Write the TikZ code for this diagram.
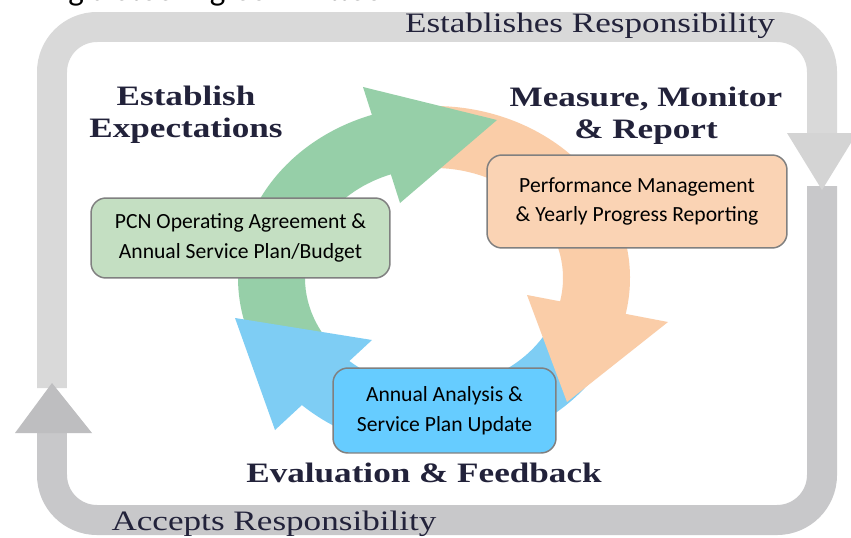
\documentclass[tikz,border=0pt]{standalone}
\usepackage{fontspec}
\setmainfont{Liberation Serif}
\newfontfamily\boxfont{Carlito}
\newfontfamily\wideserif[FakeStretch=1.25]{Liberation Serif}
\usepackage{tikz}
\usetikzlibrary{positioning}
\usepackage{xcolor}
\definecolor{ringgreen}{HTML}{96CFA8}
\definecolor{ringorange}{HTML}{FACDA8}
\definecolor{ringblue}{HTML}{7ECDF4}
\definecolor{boxgreen}{HTML}{C4DFC2}
\definecolor{boxorange}{HTML}{FAD3B4}
\definecolor{boxblue}{HTML}{66CCFF}
\definecolor{framelight}{HTML}{D9D9D9}
\definecolor{framehead}{HTML}{D4D4D4}
\definecolor{framedark}{HTML}{C8C8CA}
\definecolor{inkblue}{HTML}{22223A}

\begin{document}
\begin{tikzpicture}[x=0.02cm, y=-0.02cm,
    stagebox/.style={draw=black!50, line width=0.85pt, rounded corners=0.3cm,
        align=center, inner sep=0pt, font=\boxfont\fontsize{12.3}{17}\selectfont},
    stagetitle/.style={text=inkblue, align=center, inner sep=0pt,
        font=\wideserif\bfseries\fontsize{16}{18}\selectfont},
    looplabel/.style={text=inkblue, inner sep=0pt,
        font=\wideserif\fontsize{16}{18}\selectfont},
    loopband/.style={line width=0.6cm, rounded corners=0.9cm}]

    \useasboundingbox[fill=white] (0,0) rectangle (851,537);

    % heading line, cut by the top edge
    \node[anchor=base west, inner sep=0pt, font=\boxfont\fontsize{18.8}{20}\selectfont]
        (committee) at (-27,1) {Forming a Steering Committee};

    % outer loop: two bands, heads on top
    \draw[framelight, loopband] (52,388) -- (52,27) -- (822,27) -- (822,140);
    \draw[framedark, loopband] (822,186) -- (822,520) -- (52,520) -- (52,428);
    \fill[framehead] (787,133) -- (857,133) -- (822,190) -- cycle;
    \fill[framedark!95!black] (15,433) -- (92,433) -- (52,383) -- cycle;

    \node[looplabel, anchor=base] (establishes) at (590,33) {Establishes Responsibility};
    \node[looplabel, anchor=base] (accepts) at (274,530) {Accepts Responsibility};

    % inner cycle
    \begin{scope}[shift={(434,278)}, yscale=-1]
        % bodies
        \fill[ringorange] (92:196 and 172) arc[start angle=92, end angle=-14, x radius=196, y radius=172]
            -- (-14:129 and 110) arc[start angle=-14, end angle=92, x radius=129, y radius=110] -- cycle;
        \fill[ringblue] (-20:196 and 172) arc[start angle=-20, end angle=-136, x radius=196, y radius=172]
            -- (-136:129 and 110) arc[start angle=-136, end angle=-20, x radius=129, y radius=110] -- cycle;
        \fill[ringgreen] (212:196 and 172) arc[start angle=212, end angle=106, x radius=196, y radius=172]
            -- (106:129 and 110) arc[start angle=106, end angle=212, x radius=129, y radius=110] -- cycle;
    \end{scope}
    % heads
    \fill[ringgreen] (363,87) -- (497,120) -- (400,203) -- cycle;
    \fill[ringorange] (527,295) -- (668,322) -- (567,402) -- cycle;
    \fill[ringblue] (235,318) -- (372,340) -- (275,430) -- cycle;

    % stage boxes
    \node[stagebox, fill=boxgreen, minimum width=5.98cm, minimum height=1.6cm]
        (pcn) at (240.5,238) {PCN Operating Agreement \&\\Annual Service Plan/Budget};
    \node[stagebox, fill=boxorange, minimum width=6cm, minimum height=1.86cm]
        (perf) at (637,201.5) {Performance Management\\\& Yearly Progress Reporting};
    \node[stagebox, fill=boxblue, minimum width=4.46cm, minimum height=1.7cm]
        (analysis) at (444.5,410.5) {Annual Analysis \&\\Service Plan Update};

    % stage titles
    \node[stagetitle] (expect) at (186,115) {Establish\\Expectations};
    \node[stagetitle] (measure) at (646,116) {Measure, Monitor\\\& Report};
    \node[stagetitle, anchor=base] (evaluate) at (424,482) {Evaluation \& Feedback};
\end{tikzpicture}
\end{document}
